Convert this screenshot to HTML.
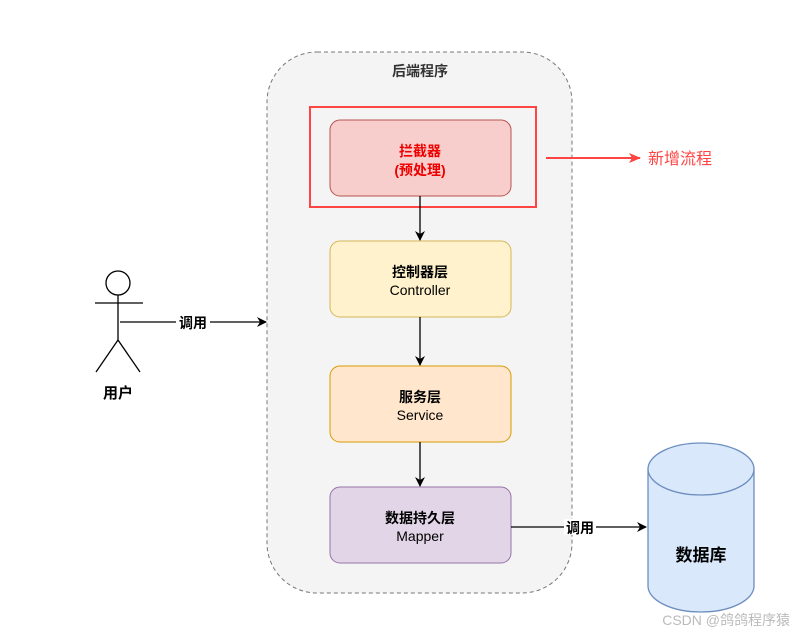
<!DOCTYPE html>
<html><head><meta charset="utf-8"><style>
body{margin:0;background:#fff;}
text{font-family:"Liberation Sans","Noto Sans CJK SC",sans-serif;}
</style></head><body>
<svg width="800" height="636" viewBox="0 0 800 636" xmlns="http://www.w3.org/2000/svg">
<defs>
<marker id="a" markerWidth="10" markerHeight="10" refX="9" refY="5" orient="auto" markerUnits="userSpaceOnUse"><path d="M0,0 L10,5 L0,10 L3,5 Z" fill="#000"/></marker>
<marker id="r" markerWidth="12" markerHeight="10" refX="11" refY="5" orient="auto" markerUnits="userSpaceOnUse"><path d="M0,0 L12,5 L0,10 L3,5 Z" fill="#f44"/></marker>
</defs>
<rect x="267" y="52" width="305" height="541" rx="50" fill="#f4f4f4" stroke="#777" stroke-dasharray="4,3"/>
<text x="420" y="76" text-anchor="middle" font-size="14" font-weight="bold" fill="#333">后端程序</text>
<rect x="310" y="107" width="226" height="100" fill="none" stroke="#f44" stroke-width="2"/>
<rect x="330" y="120" width="181" height="76" rx="10" fill="#f8cecc" stroke="#b85450"/>
<text x="420" y="156" text-anchor="middle" font-size="14" font-weight="bold" fill="#e00">拦截器</text>
<text x="420" y="175" text-anchor="middle" font-size="14" font-weight="bold" fill="#e00">(预处理)</text>
<rect x="330" y="241" width="181" height="76" rx="10" fill="#fff2cc" stroke="#d6b656"/>
<text x="420" y="277" text-anchor="middle" font-size="14" font-weight="bold">控制器层</text>
<text x="420" y="295" text-anchor="middle" font-size="14">Controller</text>
<rect x="330" y="366" width="181" height="76" rx="10" fill="#ffe6cc" stroke="#d79b00"/>
<text x="420" y="402" text-anchor="middle" font-size="14" font-weight="bold">服务层</text>
<text x="420" y="420" text-anchor="middle" font-size="14">Service</text>
<rect x="330" y="487" width="181" height="76" rx="10" fill="#e1d5e7" stroke="#9673a6"/>
<text x="420" y="523" text-anchor="middle" font-size="14" font-weight="bold">数据持久层</text>
<text x="420" y="541" text-anchor="middle" font-size="14">Mapper</text>
<line x1="420" y1="196" x2="420" y2="240" stroke="#000" stroke-width="1.3" marker-end="url(#a)"/>
<line x1="420" y1="317" x2="420" y2="365" stroke="#000" stroke-width="1.3" marker-end="url(#a)"/>
<line x1="420" y1="442" x2="420" y2="486" stroke="#000" stroke-width="1.3" marker-end="url(#a)"/>
<line x1="546" y1="158" x2="640" y2="158" stroke="#f44" stroke-width="2" marker-end="url(#r)"/>
<text x="648" y="164" font-size="16" fill="#f44">新增流程</text>
<g stroke="#000" stroke-width="1.3" fill="#fff">
<circle cx="118" cy="283" r="12"/>
<line x1="118" y1="295" x2="118" y2="340"/>
<line x1="95" y1="303" x2="143" y2="303"/>
<line x1="118" y1="340" x2="96" y2="372"/>
<line x1="118" y1="340" x2="140" y2="372"/>
</g>
<text x="118" y="398" text-anchor="middle" font-size="15" font-weight="bold">用户</text>
<line x1="120" y1="322" x2="266" y2="322" stroke="#000" stroke-width="1.3" marker-end="url(#a)"/>
<rect x="176" y="314" width="34" height="16" fill="#fff"/>
<text x="193" y="328" text-anchor="middle" font-size="14" font-weight="bold">调用</text>
<path d="M648,469 L648,586 A53,26 0 0 0 754,586 L754,469" fill="#dae8fc" stroke="#6c8ebf" stroke-width="1.3"/>
<ellipse cx="701" cy="469" rx="53" ry="26" fill="#dae8fc" stroke="#6c8ebf" stroke-width="1.3"/>
<text x="701" y="561" text-anchor="middle" font-size="17" font-weight="bold">数据库</text>
<line x1="511" y1="527" x2="646" y2="527" stroke="#000" stroke-width="1.3" marker-end="url(#a)"/>
<rect x="564" y="519" width="32" height="16" fill="#fff"/>
<text x="580" y="533" text-anchor="middle" font-size="14" font-weight="bold">调用</text>
<text x="790" y="625" text-anchor="end" font-size="14" fill="#bbb">CSDN @鸽鸽程序猿</text>
</svg>
</body></html>
